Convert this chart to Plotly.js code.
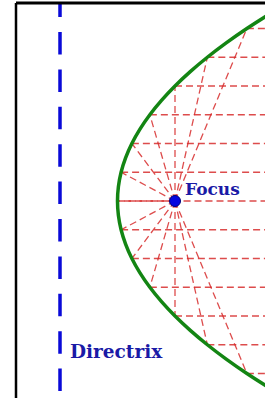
<!DOCTYPE html>
<html>
<head>
<meta charset="utf-8">
<script src="https://cdn.plot.ly/plotly-3.0.1.min.js"></script>
<style>
html,body{margin:0;padding:0;background:#fff;}
#chart{width:265px;height:398px;}
</style>
</head>
<body>
<div id="chart"></div>
<script>
// Parabola y^2 = 4px with p = 1 (vertex at 0, focus at 1, directrix at -1)
const curveY = [-3.5,-3.25,-3,-2.75,-2.5,-2.25,-2,-1.75,-1.5,-1.25,-1,-0.75,-0.5,-0.25,0,0.25,0.5,0.75,1,1.25,1.5,1.75,2,2.25,2.5,2.75,3,3.25,3.5];
const curveX = [3.0625,2.640625,2.25,1.890625,1.5625,1.265625,1,0.765625,0.5625,0.390625,0.25,0.140625,0.0625,0.015625,0,0.015625,0.0625,0.140625,0.25,0.390625,0.5625,0.765625,1,1.265625,1.5625,1.890625,2.25,2.640625,3.0625];
const pointY = [-3,-2.5,-2,-1.5,-1,-0.5,0,0.5,1,1.5,2,2.5,3];
const pointX = [2.25,1.5625,1,0.5625,0.25,0.0625,0,0.0625,0.25,0.5625,1,1.5625,2.25];
const focusX = 1, focusY = 0;
const directrixX = -1;
const rayEndX = 3;
const labels = ["Focus", "Directrix"];

const hx = [], hy = [], fx = [], fy = [];
for (let i = 0; i < pointX.length; i++) {
  hx.push(pointX[i], rayEndX, null); hy.push(pointY[i], pointY[i], null);
  fx.push(focusX, pointX[i], null); fy.push(focusY, pointY[i], null);
}
const red = 'rgba(215,45,45,0.85)';
const traces = [
  {x: hx, y: hy, mode: 'lines', line: {color: red, width: 1.3, dash: '7px,4px'}, hoverinfo: 'skip'},
  {x: fx, y: fy, mode: 'lines', line: {color: red, width: 1.3, dash: '7px,4px'}, hoverinfo: 'skip'},
  {x: curveX, y: curveY, mode: 'lines', line: {color: '#138513', width: 3.5, shape: 'spline'}, hoverinfo: 'skip'},
  {x: [directrixX, directrixX], y: [3.59, -3.8], mode: 'lines', line: {color: '#0a0ad8', width: 3.5, dash: '22.5px,14.9px'}, hoverinfo: 'skip'},
  {x: [focusX], y: [focusY], mode: 'markers', marker: {color: '#0505e0', size: 11, line: {color: '#00007a', width: 1}}, hoverinfo: 'skip'}
];
const layout = {
  width: 265, height: 398,
  margin: {l: 16, r: 0, t: 3, b: 0},
  paper_bgcolor: '#fff', plot_bgcolor: '#fff',
  showlegend: false,
  xaxis: {range: [-1.7652, 2.5652], visible: false, showgrid: false, zeroline: false, fixedrange: true},
  yaxis: {range: [-3.4261, 3.4435], visible: false, showgrid: false, zeroline: false, fixedrange: true},
  shapes: [
    {type: 'line', xref: 'paper', yref: 'paper', x0: 0, x1: 1.05, y0: 1, y1: 1, line: {color: '#000', width: 3}, layer: 'above'},
    {type: 'line', xref: 'paper', yref: 'paper', x0: 0, x1: 0, y0: -0.05, y1: 1, line: {color: '#000', width: 2.5}, layer: 'above'}
  ],
  annotations: [
    {x: 1.14, y: 0.21, xref: 'x', yref: 'y', text: '<b>' + labels[0] + '</b>', showarrow: false, xanchor: 'left', yanchor: 'middle',
     font: {family: 'DejaVu Serif', size: 17, color: '#1a1aa6'}},
    {x: -0.86, y: -2.61, xref: 'x', yref: 'y', text: '<b>' + labels[1] + '</b>', showarrow: false, xanchor: 'left', yanchor: 'middle',
     font: {family: 'DejaVu Serif', size: 18.5, color: '#1a1aa6'}}
  ]
};
Plotly.newPlot('chart', traces, layout, {displayModeBar: false, staticPlot: true});
</script>
</body>
</html>
